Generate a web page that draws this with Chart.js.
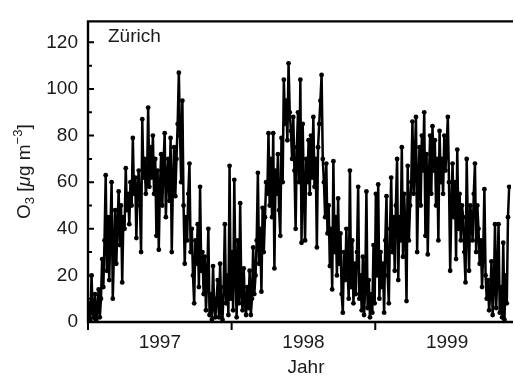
<!DOCTYPE html>
<html>
<head>
<meta charset="utf-8">
<script src="https://cdn.jsdelivr.net/npm/chart.js@4"></script>
<style>
  html, body { margin: 0; padding: 0; background: #fff; }
  #wrap { width: 515px; height: 376px; }
</style>
</head>
<body>
<div id="wrap"><canvas id="chart-o3" width="515" height="376"></canvas></div>
<script>
// O3 Zürich, Tageswerte (alle 3 Tage ab 1.1.1997)
const START_YEAR = 1997;
const STEP_DAYS = 3;
const X_MAX = 1999.945;
const Y_MAX = 129;
const YEAR_LABELS = ['1997', '1998', '1999'];
const YEAR_BOUNDS = [1997, 1998, 1999];
const Y_TICKS = [0, 20, 40, 60, 80, 100, 120];
const Y_MINOR = [10, 30, 50, 70, 90, 110];

const O3 = [
  3, 8, 1, 20, 4, 2, 12, 1, 5, 14, 2, 10, 27, 15, 35, 63, 22, 45, 18, 40, 60, 10, 30, 48, 25,
  42, 56, 33, 50, 17, 45, 40, 66, 48, 55, 42, 60, 50, 79, 55, 62, 36, 58, 65, 50, 30, 87, 62, 70, 55,
  60, 92, 58, 75, 62, 80, 55, 70, 37, 65, 31, 58, 72, 50, 68, 81, 45, 62, 70, 52, 79, 30, 60, 75, 54,
  70, 85, 107, 80, 60, 95, 50, 25, 45, 35, 55, 68, 30, 40, 20, 8, 35, 25, 42, 15, 58, 22, 30, 12, 28,
  5, 18, 40, 3, 12, 1, 24, 6, 2, 10, 18, 2, 25, 4, 1, 15, 42, 8, 20, 3, 67, 10, 30, 5, 61,
  20, 2, 35, 8, 51, 12, 5, 23, 8, 3, 15, 6, 22, 3, 10, 32, 12, 20, 35, 64, 25, 40, 13, 49, 30,
  45, 60, 55, 81, 50, 70, 45, 81, 23, 65, 55, 72, 48, 37, 79, 60, 104, 85, 95, 78, 111, 90, 82, 70, 88,
  65, 40, 75, 90, 60, 104, 34, 85, 55, 35, 70, 60, 78, 55, 80, 62, 88, 58, 70, 32, 75, 85, 95, 106, 70,
  60, 45, 68, 38, 50, 24, 40, 14, 69, 30, 45, 20, 53, 25, 38, 12, 4, 30, 18, 40, 22, 10, 65, 15, 35,
  8, 25, 12, 30, 58, 10, 20, 5, 28, 3, 15, 56, 6, 18, 2, 12, 4, 33, 8, 55, 20, 59, 10, 30, 15,
  25, 4, 35, 54, 20, 8, 40, 62, 30, 45, 22, 50, 70, 18, 45, 35, 75, 28, 55, 40, 9, 67, 35, 50, 60,
  86, 55, 70, 88, 30, 60, 75, 50, 80, 65, 90, 37, 72, 29, 62, 80, 55, 84, 65, 78, 50, 70, 35, 82, 60,
  70, 55, 80, 65, 75, 88, 60, 22, 50, 68, 45, 60, 27, 74, 40, 55, 35, 50, 45, 30, 17, 70, 40, 22, 50,
  45, 35, 55, 68, 30, 50, 40, 25, 35, 15, 30, 57, 20, 10, 18, 5, 12, 26, 3, 15, 42, 6, 20, 42, 4,
  15, 2, 34, 1, 20, 8, 45, 58
];

const FONT = "'Liberation Sans', Arial, sans-serif";
const INK = '#1a1a1a';

// Rahmen, Ticks nach innen (y) bzw. aussen (x), Beschriftungen
const framePlugin = {
  id: 'frame',
  afterDraw(chart) {
    const { ctx, chartArea: a, scales: { x, y } } = chart;
    ctx.save();
    ctx.strokeStyle = '#000';
    ctx.lineWidth = 2.4;
    ctx.beginPath();
    ctx.moveTo(a.right + 2, a.top);
    ctx.lineTo(a.left, a.top);
    ctx.lineTo(a.left, a.bottom);
    ctx.lineTo(a.right + 2, a.bottom);
    ctx.stroke();

    ctx.lineWidth = 2;
    ctx.beginPath();
    Y_TICKS.forEach(v => {
      const py = y.getPixelForValue(v);
      ctx.moveTo(a.left, py); ctx.lineTo(a.left + 6, py);
    });
    Y_MINOR.forEach(v => {
      const py = y.getPixelForValue(v);
      ctx.moveTo(a.left, py); ctx.lineTo(a.left + 4, py);
    });
    YEAR_BOUNDS.forEach(v => {
      const px = x.getPixelForValue(v);
      ctx.moveTo(px, a.bottom); ctx.lineTo(px, a.bottom + 8);
    });
    ctx.stroke();

    ctx.fillStyle = INK;
    ctx.font = `19px ${FONT}`;
    ctx.textBaseline = 'alphabetic';
    ctx.textAlign = 'left';
    ctx.fillText('Zürich', a.left + 20, 42);

    ctx.textAlign = 'center';
    ctx.fillText('Jahr', 306, 373);

    // O3 [µg m-3], senkrecht
    const parts = [
      { t: 'O', size: 19, dy: 0 },
      { t: '3', size: 13, dy: 4 },
      { t: ' [', size: 19, dy: 0 },
      { t: 'μ', size: 19, dy: 0, italic: true },
      { t: 'g m', size: 19, dy: 0 },
      { t: '−3', size: 13, dy: -8 },
      { t: ']', size: 19, dy: 0 }
    ];
    const fontOf = p => `${p.italic ? 'italic ' : ''}${p.size}px ${FONT}`;
    let total = 0;
    parts.forEach(p => { ctx.font = fontOf(p); p.w = ctx.measureText(p.t).width; total += p.w; });
    ctx.translate(30, (a.top + a.bottom) / 2);
    ctx.rotate(-Math.PI / 2);
    ctx.textAlign = 'left';
    let cx = -total / 2;
    parts.forEach(p => {
      ctx.font = fontOf(p);
      ctx.fillText(p.t, cx, p.dy);
      cx += p.w;
    });
    ctx.restore();
  }
};

const points = O3.map((v, i) => ({ x: START_YEAR + i * STEP_DAYS / 365.25, y: v }));

new Chart(document.getElementById('chart-o3'), {
  type: 'line',
  data: {
    datasets: [{
      data: points,
      borderColor: '#000',
      borderWidth: 2.5,
      pointRadius: 2.4,
      pointBackgroundColor: '#000',
      pointBorderWidth: 0,
      tension: 0
    }]
  },
  options: {
    responsive: false,
    animation: false,
    devicePixelRatio: 1,
    layout: { padding: { left: 0, right: 0, top: 12, bottom: 0 } },
    plugins: { legend: { display: false }, tooltip: { enabled: false } },
    scales: {
      x: {
        type: 'linear',
        min: START_YEAR,
        max: X_MAX,
        grid: { display: false, drawTicks: false },
        border: { display: false },
        afterBuildTicks: s => { s.ticks = YEAR_LABELS.map(l => ({ value: +l + 0.5 })); },
        afterFit: s => { s.height = 54; },
        ticks: {
          padding: 9,
          maxRotation: 0,
          color: INK,
          font: { family: FONT, size: 19 },
          callback: v => String(Math.floor(v))
        }
      },
      y: {
        min: 0,
        max: Y_MAX,
        grid: { display: false, drawTicks: false },
        border: { display: false },
        afterBuildTicks: s => { s.ticks = Y_TICKS.map(v => ({ value: v })); },
        afterFit: s => { s.width = 88; },
        ticks: {
          padding: 10,
          color: INK,
          font: { family: FONT, size: 19 }
        }
      }
    }
  },
  plugins: [framePlugin]
});
</script>
</body>
</html>
